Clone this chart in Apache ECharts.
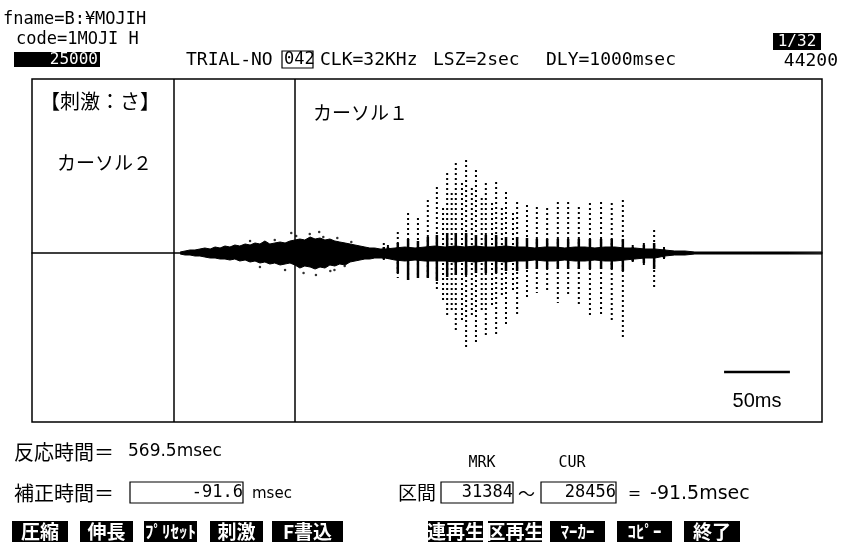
<!DOCTYPE html>
<html><head><meta charset="utf-8">
<script src="https://cdn.jsdelivr.net/npm/echarts@6/dist/echarts.min.js"></script>
<style>html,body{margin:0;padding:0;background:#fff}#c{width:842px;height:544px}</style>
</head><body><div id="c"></div>
<script>
// Sample-index axis (32 kHz), display window 25000..44200
const xMin = 25000, xMax = 44200;
const cursors = [28456, 31384];            // CUR (カーソル2), MRK (カーソル1)
// dense envelope of the signal (fricative noise + voiced core), amplitude units
const bandX = [28600, 28720, 28840, 28960, 29080, 29200, 29330, 29450, 29570, 29690,
  29810, 29930, 30050, 30180, 30300, 30420, 30540, 30660, 30780, 30900,
  31030, 31150, 31270, 31390, 31510, 31630, 31760, 31880, 32000, 32120,
  32240, 32360, 32480, 32610, 32730, 32850, 32970, 33090, 33210, 33330, 33460,
  33580, 33820, 34060, 34310, 34550, 34790, 35040, 35280, 35520, 35760,
  36010, 36250, 36490, 36740, 36980, 37220, 37470, 37710, 37950, 38190,
  38440, 38680, 38920, 39170, 39410, 39650, 39900, 40140, 40380, 40620, 40870, 41110,
  41600, 42500, 43400, 44200];
const bandTop = [1, 2, 3, 3, 4, 5, 4, 6, 5, 7,
  6, 8, 7, 9, 8, 10, 9, 12, 9, 10,
  11, 10, 12, 13, 14, 13, 16, 14, 15, 13,
  14, 12, 11, 10, 9, 8, 7, 6, 5, 5, 4,
  4, 5, 6, 5, 6, 7, 6, 7, 6, 7,
  6, 6, 7, 6, 6, 5, 6, 6, 5, 6,
  6, 5, 6, 6, 5, 5, 4, 4, 3, 2, 2, 1,
  1, 1, 1, 1];
const bandBot = [-1, -2, -2, -3, -3, -4, -5, -5, -6, -6,
  -7, -6, -8, -7, -9, -8, -10, -9, -11, -10,
  -12, -11, -10, -12, -15, -13, -14, -16, -14, -15,
  -12, -13, -11, -12, -9, -8, -7, -6, -6, -5, -5,
  -5, -7, -8, -7, -8, -8, -8, -9, -8, -9,
  -8, -8, -9, -8, -8, -7, -8, -8, -7, -8,
  -8, -7, -8, -8, -7, -6, -5, -5, -3, -2, -2, -1,
  -1, -1, -1, -1];
// glottal pulses (dotted excursions) and their solid lobes
const pulseX   = [33550, 33650, 33890, 34140, 34380, 34620, 34840, 35090, 35300, 35550, 35790, 36030, 36280, 36520, 36790, 37030, 37270, 37520, 37780, 38030, 38290, 38560, 38830, 39090, 39360, 39600, 39870, 40120, 40360];
const pulseTop = [10, 8, 21, 40, 35, 53, 66, 80, 90, 93, 83, 70, 71, 61, 51, 48, 46, 45, 51, 51, 46, 50, 51, 50, 53, 8, 10, 23, 6];
const pulseBot = [-9, -7, -25, -27, -25, -25, -39, -64, -80, -97, -90, -82, -84, -74, -64, -44, -40, -40, -50, -44, -54, -64, -64, -70, -84, -10, -12, -37, -8];
const lobeTop  = [6, 6, 10, 14, 12, 16, 18, 20, 20, 20, 18, 18, 18, 16, 16, 15, 14, 14, 14, 14, 14, 14, 14, 14, 14, 6, 8, 10, 4];
const lobeBot  = [-6, -6, -20, -27, -25, -25, -28, -24, -22, -22, -20, -20, -20, -18, -18, -16, -16, -16, -16, -16, -16, -16, -16, -16, -18, -8, -10, -16, -5];
// secondary (weaker) dotted columns inside the loudest periods
const secX   = [34990, 35200, 35450, 35690, 35930, 36180, 36420, 36690];
const secTop = [45, 60, 70, 65, 55, 50, 45, 40];
const secBot = [-50, -60, -70, -65, -60, -55, -45, -40];
// scattered noise dots around the fricative
const dotX = [30300, 30540, 30900, 31150, 31420, 31600, 31750, 31900, 32080, 32250, 32420, 32600, 32760, 31300, 31980, 32350];
const dotY = [12, -14, 13, -17, 17, -20, 19, -22, 16, -18, 15, -13, 11, 20, 21, -17];
// 50 ms scale bar (1600 samples)
const scaleBarX = [41820, 43420];
const scaleBarY = -119;

const chart = echarts.init(document.getElementById('c'), null, {renderer: 'canvas'});
const MONO = '"DejaVu Sans Mono", "Liberation Mono", monospace';
const JP = '"Noto Sans CJK JP", sans-serif';
const SANS = '"Liberation Sans", Arial, sans-serif';
const DSANS = '"DejaVu Sans", sans-serif';

function txt(x, y, text, o) {
  o = o || {};
  return {type: 'text', x: x, y: y, z: 10, style: {text: text, fill: o.fill || '#000',
    font: (o.weight || 'normal') + ' ' + (o.size || 16) + 'px ' + (o.family || MONO),
    textAlign: o.align || 'left', textVerticalAlign: 'middle'}};
}
function box(x, y, w, h, filled) {
  return {type: 'rect', z: 9, shape: {x: x, y: y, width: w, height: h},
    style: filled ? {fill: '#000'} : {fill: '#fff', stroke: '#000', lineWidth: 1.2}};
}
function button(x, w, label, size) {
  return [box(x, 521, w, 21, true), txt(x + w / 2, 532, label, {fill: '#fff', size: size || 19, family: JP, align: 'center', weight: 'bold'})];
}

const graphics = [
  txt(3, 20, 'fname=B:¥MOJIH', {size: 17}),
  txt(16, 40, 'code=1MOJI H', {size: 17}),
  box(14, 52, 86, 15, true), txt(98, 60, '25000', {fill: '#fff', size: 16, align: 'right'}),
  txt(186, 60, 'TRIAL-NO', {size: 18}),
  box(282, 51, 31, 17, false), txt(284, 60, '042', {size: 17}),
  txt(320, 60, 'CLK=32KHz', {size: 18}),
  txt(433, 60, 'LSZ=2sec', {size: 18}),
  txt(546, 60, 'DLY=1000msec', {size: 18}),
  txt(838, 61, '44200', {size: 18, align: 'right'}),
  box(773, 33, 48, 17, true), txt(797, 42, '1/32', {fill: '#fff', size: 16, align: 'center'}),
  txt(40, 101, '【刺激：さ】', {size: 20, family: JP}),
  txt(57, 163, 'カーソル２', {size: 19, family: JP}),
  txt(313, 113, 'カーソル１', {size: 19, family: JP}),
  txt(757, 401, '50ms', {size: 20, family: SANS, align: 'center'}),
  txt(14, 452, '反応時間＝', {size: 20, family: JP}),
  txt(128, 452, '569.5msec', {size: 17, family: DSANS}),
  txt(14, 493, '補正時間＝', {size: 20, family: JP}),
  box(130, 482, 113, 21, false), txt(243, 493, '-91.6', {size: 17, align: 'right'}),
  txt(252, 494, 'msec', {size: 15, family: DSANS}),
  txt(398, 493, '区間', {size: 19, family: JP}),
  txt(482, 463, 'MRK', {size: 15, align: 'center'}),
  txt(572, 463, 'CUR', {size: 15, align: 'center'}),
  box(441, 482, 72, 21, false), txt(513, 493, '31384', {size: 17, align: 'right'}),
  txt(518, 494, '～', {size: 17, family: JP}),
  box(541, 482, 75, 21, false), txt(616, 493, '28456', {size: 17, align: 'right'}),
  txt(625, 494, '＝ -91.5msec', {size: 19, family: DSANS})
].concat(
  button(12, 56, '圧縮'), button(80, 53, '伸長'), button(144, 53, 'ﾌﾟﾘｾｯﾄ', 17), button(210, 53, '刺激'),
  button(272, 71, 'F書込'), button(428, 55, '連再生'), button(488, 54, '区再生'),
  button(550, 55, 'ﾏｰｶｰ', 17), button(617, 55, 'ｺﾋﾟｰ', 17), button(684, 56, '終了')
);

function pulseRender(params, api) {
  const x = api.value(0);
  const p1 = api.coord([x, api.value(1)]), p2 = api.coord([x, api.value(2)]);
  const children = [{type: 'line', shape: {x1: p1[0], y1: p1[1], x2: p2[0], y2: p2[1]},
    style: {stroke: '#000', lineWidth: 2, lineDash: [2, 3]}}];
  if (api.value(3) != null && !isNaN(api.value(3))) {
    const l1 = api.coord([x, api.value(3)]), l2 = api.coord([x, api.value(4)]);
    children.push({type: 'line', shape: {x1: l1[0], y1: l1[1], x2: l2[0], y2: l2[1]},
      style: {stroke: '#000', lineWidth: 2.5}});
  }
  return {type: 'group', children: children};
}

const option = {
  animation: false,
  backgroundColor: '#fff',
  grid: {left: 32, right: 20, top: 79, bottom: 122, show: true, borderColor: '#000', borderWidth: 1.5},
  xAxis: {type: 'value', min: xMin, max: xMax,
    axisLine: {show: true, onZero: true, lineStyle: {color: '#000', width: 1.5}},
    axisTick: {show: false}, axisLabel: {show: false}, splitLine: {show: false}},
  yAxis: {type: 'value', min: -169, max: 174, axisLine: {show: false}, axisTick: {show: false},
    axisLabel: {show: false}, splitLine: {show: false}},
  series: [
    {type: 'line', data: bandX.map((x, i) => [x, bandTop[i]]), symbol: 'none',
      lineStyle: {color: '#000', width: 1}, areaStyle: {color: '#000', opacity: 1}},
    {type: 'line', data: bandX.map((x, i) => [x, bandBot[i]]), symbol: 'none',
      lineStyle: {color: '#000', width: 1}, areaStyle: {color: '#000', opacity: 1}},
    {type: 'custom', clip: true,
      data: pulseX.map((x, i) => [x, pulseTop[i], pulseBot[i], lobeTop[i], lobeBot[i]]),
      renderItem: pulseRender},
    {type: 'custom', clip: true,
      data: secX.map((x, i) => [x, secTop[i], secBot[i]]),
      renderItem: pulseRender},
    {type: 'scatter', data: dotX.map((x, i) => [x, dotY[i]]), symbolSize: 2.5,
      itemStyle: {color: '#000'},
      markLine: {silent: true, symbol: ['none', 'none'], label: {show: false},
        lineStyle: {color: '#000', type: 'solid', width: 1.5},
        data: cursors.map(v => ({xAxis: v}))}},
    {type: 'line', data: scaleBarX.map(x => [x, scaleBarY]), symbol: 'none',
      lineStyle: {color: '#000', width: 2.5}}
  ],
  graphic: graphics
};
chart.setOption(option);
</script></body></html>
